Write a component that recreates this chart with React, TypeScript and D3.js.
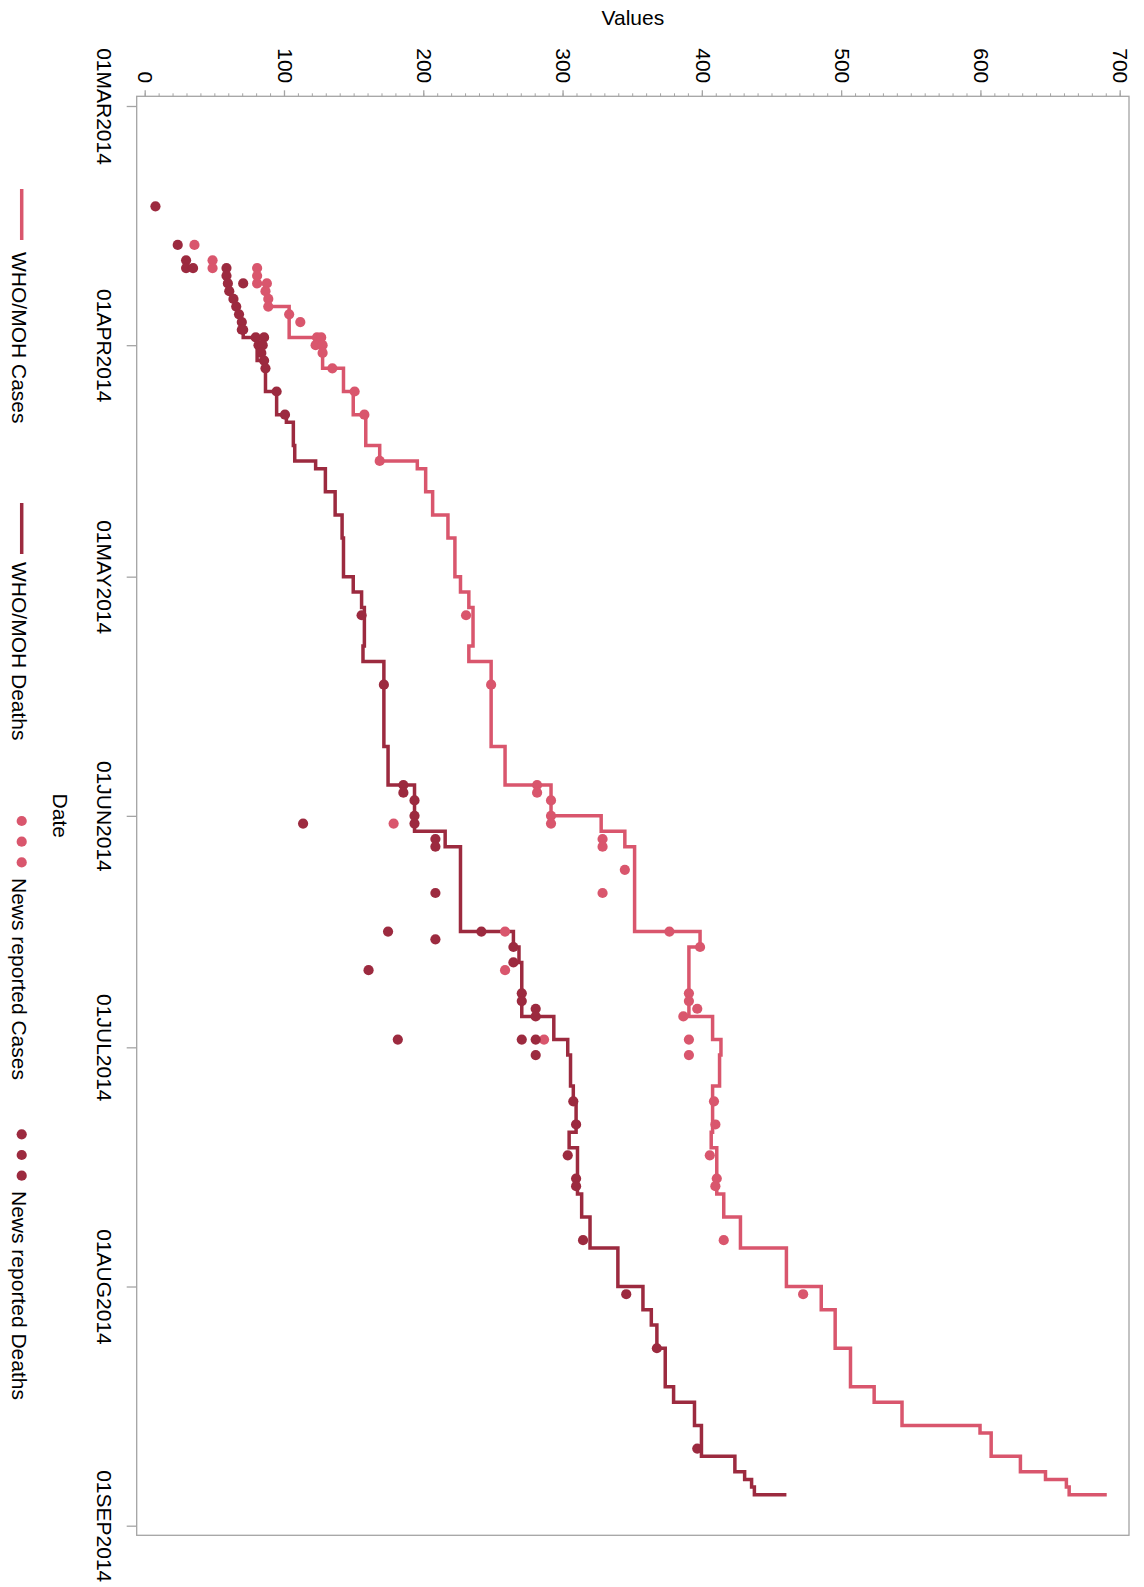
import { useEffect, useRef } from 'react';
import * as d3 from 'd3';

// WHO/MOH step series
const whoCaseDates = [
  '2014-03-26', '2014-03-27', '2014-03-31', '2014-04-04', '2014-04-07', '2014-04-10', '2014-04-14',
  '2014-04-16', '2014-04-17', '2014-04-20', '2014-04-23', '2014-04-26', '2014-05-01', '2014-05-03',
  '2014-05-05', '2014-05-10', '2014-05-12', '2014-05-23', '2014-05-28', '2014-06-01', '2014-06-03',
  '2014-06-05', '2014-06-16', '2014-06-18', '2014-06-27', '2014-06-30', '2014-07-02', '2014-07-06',
  '2014-07-12', '2014-07-14', '2014-07-20', '2014-07-23', '2014-07-27', '2014-08-01', '2014-08-04',
  '2014-08-09', '2014-08-14', '2014-08-16', '2014-08-19', '2014-08-20', '2014-08-23', '2014-08-25',
  '2014-08-26', '2014-08-27', '2014-08-28',
];
const whoCaseValues = [
  88, 103, 127, 142, 149, 158, 168, 195, 201, 206, 217, 222, 226, 232, 235, 232, 248, 258, 291, 327,
  344, 351, 398, 390, 407, 413, 412, 407, 406, 410, 415, 427, 460, 485, 495, 506, 523, 543, 599, 607,
  628, 646, 661, 663, 690,
];

const whoDeathDates = [
  '2014-03-29', '2014-03-31', '2014-04-03', '2014-04-07', '2014-04-10', '2014-04-11', '2014-04-14',
  '2014-04-16', '2014-04-17', '2014-04-20', '2014-04-23', '2014-04-26', '2014-05-01', '2014-05-03',
  '2014-05-05', '2014-05-10', '2014-05-12', '2014-05-23', '2014-05-28', '2014-06-03', '2014-06-05',
  '2014-06-16', '2014-06-18', '2014-06-20', '2014-06-27', '2014-06-30', '2014-07-02', '2014-07-06',
  '2014-07-08', '2014-07-12', '2014-07-14', '2014-07-20', '2014-07-23', '2014-07-27', '2014-08-01',
  '2014-08-04', '2014-08-06', '2014-08-09', '2014-08-14', '2014-08-16', '2014-08-19', '2014-08-23',
  '2014-08-25', '2014-08-26', '2014-08-27', '2014-08-28',
];
const whoDeathValues = [
  70, 80, 86, 94, 101, 106, 107, 122, 129, 136, 141, 142, 149, 155, 157, 156, 171, 174, 193, 215, 226,
  264, 268, 270, 293, 303, 305, 307, 309, 304, 310, 313, 319, 339, 357, 363, 367, 373, 379, 394, 399,
  423, 430, 435, 437, 460,
];

// news reports (scatter)
const newsCaseDates = [
  '2014-03-19', '2014-03-21', '2014-03-22', '2014-03-22', '2014-03-23', '2014-03-24', '2014-03-24',
  '2014-03-25', '2014-03-26', '2014-03-27', '2014-03-28', '2014-03-29', '2014-03-31', '2014-03-31',
  '2014-04-01', '2014-04-01', '2014-04-02', '2014-04-04', '2014-04-07', '2014-04-10', '2014-04-16',
  '2014-05-06', '2014-05-15', '2014-05-28', '2014-05-29', '2014-05-30', '2014-06-01', '2014-06-02',
  '2014-06-02', '2014-06-04', '2014-06-05', '2014-06-08', '2014-06-11', '2014-06-16', '2014-06-16',
  '2014-06-18', '2014-06-21', '2014-06-24', '2014-06-25', '2014-06-26', '2014-06-27', '2014-06-30',
  '2014-06-30', '2014-07-02', '2014-07-08', '2014-07-11', '2014-07-15', '2014-07-18', '2014-07-19',
  '2014-07-26', '2014-08-02',
];
const newsCaseValues = [
  35, 48, 48, 80, 80, 80, 87, 86, 88, 88, 103, 111, 123, 126, 122, 127, 127, 134, 150, 157, 168, 230,
  248, 281, 281, 291, 291, 291, 178, 328, 328, 344, 328, 376, 258, 398, 258, 390, 390, 396, 386, 286,
  390, 390, 408, 409, 405, 410, 409, 415, 472,
];

const newsDeathDates = [
  '2014-03-14', '2014-03-19', '2014-03-21', '2014-03-22', '2014-03-22', '2014-03-22', '2014-03-23',
  '2014-03-24', '2014-03-24', '2014-03-25', '2014-03-26', '2014-03-27', '2014-03-28', '2014-03-29',
  '2014-03-30', '2014-03-30', '2014-03-31', '2014-03-31', '2014-04-01', '2014-04-01', '2014-04-02',
  '2014-04-03', '2014-04-04', '2014-04-07', '2014-04-10', '2014-05-06', '2014-05-15', '2014-05-28',
  '2014-05-29', '2014-05-30', '2014-06-01', '2014-06-02', '2014-06-02', '2014-06-04', '2014-06-05',
  '2014-06-11', '2014-06-16', '2014-06-16', '2014-06-17', '2014-06-18', '2014-06-20', '2014-06-21',
  '2014-06-24', '2014-06-25', '2014-06-26', '2014-06-27', '2014-06-30', '2014-06-30', '2014-06-30',
  '2014-07-02', '2014-07-08', '2014-07-11', '2014-07-15', '2014-07-18', '2014-07-19', '2014-07-26',
  '2014-08-02', '2014-08-09', '2014-08-22',
];
const newsDeathValues = [
  7, 23, 29, 29, 34, 58, 58, 59, 70, 60, 63, 65, 67, 69, 69, 70, 79, 85, 81, 84, 83, 85, 86, 94, 100,
  155, 171, 185, 185, 193, 193, 193, 113, 208, 208, 208, 174, 241, 208, 264, 264, 160, 270, 270, 280,
  280, 181, 270, 280, 280, 307, 309, 303, 309, 309, 314, 345, 367, 396,
];

const valueTicks = [0, 100, 200, 300, 400, 500, 600, 700];
const legendLabels = ['WHO/MOH Cases', 'WHO/MOH Deaths', 'News reported Cases', 'News reported Deaths'];

const CASE_COLOR = '#d9566d';
const DEATH_COLOR = '#9c2a3f';
const FONT = "'Liberation Sans', Arial, sans-serif";
const DOT_R = 5.1;
const LINE_W = 3.5;

const App = () => {
  const ref = useRef<SVGSVGElement>(null);

  useEffect(() => {
    const svg = d3.select(ref.current);
    svg.selectAll('*').remove();

    // the whole chart is drawn upright and then turned a quarter clockwise
    const g = svg
      .append('g')
      .attr('transform', 'translate(1144,0) rotate(90)')
      .attr('font-family', FONT)
      .attr('font-size', 21);

    const parse = d3.utcParse('%Y-%m-%d');
    const start = parse('2014-03-01') as Date;
    const end = parse('2014-09-01') as Date;

    const left = 96.3;
    const right = 1535.3;
    const top = 15;
    const bottom = 1007.3;

    const x = d3.scaleUtc().domain([start, end]).range([106, 1525.7]);
    const y = d3.scaleLinear().domain([0, 700]).range([998.3, 23.3]);

    // frame
    g.append('rect')
      .attr('x', left)
      .attr('y', top)
      .attr('width', right - left)
      .attr('height', bottom - top)
      .attr('fill', 'none')
      .attr('stroke', '#a4a4a4')
      .attr('stroke-width', 1.3);

    // date axis
    const fmt = d3.utcFormat('%d%b%Y');
    const xAxis = d3
      .axisBottom(x)
      .tickValues(d3.utcMonth.range(start, d3.utcDay.offset(end, 1)))
      .tickSize(10)
      .tickFormat((d) => fmt(d as Date).toUpperCase());
    const gx = g.append('g').attr('transform', `translate(0,${bottom})`).call(xAxis);
    gx.select('.domain').remove();
    gx.selectAll('line').attr('stroke', '#a4a4a4').attr('stroke-width', 1.3);
    gx.selectAll('text').attr('y', 40).attr('dy', null).attr('fill', '#000');
    gx.attr('font-family', FONT).attr('font-size', 21);

    // value axis, minor then major ticks
    const gMinor = g
      .append('g')
      .attr('transform', `translate(${left},0)`)
      .call(d3.axisLeft(y).tickValues(d3.range(0, 701, 10)).tickSize(3).tickFormat(() => ''));
    gMinor.select('.domain').remove();
    gMinor.selectAll('line').attr('stroke', '#a4a4a4');

    const gy = g
      .append('g')
      .attr('transform', `translate(${left},0)`)
      .call(d3.axisLeft(y).tickValues(valueTicks).tickSize(6).tickPadding(7));
    gy.select('.domain').remove();
    gy.selectAll('line').attr('stroke', '#a4a4a4').attr('stroke-width', 1.3);
    gy.selectAll('text').attr('fill', '#000');
    gy.attr('font-family', FONT).attr('font-size', 21);

    // axis titles
    g.append('text')
      .attr('x', (left + right) / 2)
      .attr('y', 1090.7)
      .attr('text-anchor', 'middle')
      .text('Date');
    g.append('text')
      .attr('transform', `translate(25,${(top + bottom) / 2}) rotate(-90)`)
      .attr('text-anchor', 'middle')
      .text('Values');

    // step lines
    const line = d3
      .line<[Date, number]>()
      .x((d) => x(d[0]))
      .y((d) => y(d[1]))
      .curve(d3.curveStepAfter);

    const casePts = whoCaseDates.map((d, i) => [parse(d) as Date, whoCaseValues[i]] as [Date, number]);
    const deathPts = whoDeathDates.map((d, i) => [parse(d) as Date, whoDeathValues[i]] as [Date, number]);

    g.append('path')
      .attr('d', line(casePts))
      .attr('fill', 'none')
      .attr('stroke', CASE_COLOR)
      .attr('stroke-width', LINE_W);
    g.append('path')
      .attr('d', line(deathPts))
      .attr('fill', 'none')
      .attr('stroke', DEATH_COLOR)
      .attr('stroke-width', LINE_W);

    // news dots
    g.append('g')
      .selectAll('circle')
      .data(newsCaseDates.map((d, i) => [parse(d) as Date, newsCaseValues[i]] as [Date, number]))
      .enter()
      .append('circle')
      .attr('cx', (d) => x(d[0]))
      .attr('cy', (d) => y(d[1]))
      .attr('r', DOT_R)
      .attr('fill', CASE_COLOR);
    g.append('g')
      .selectAll('circle')
      .data(newsDeathDates.map((d, i) => [parse(d) as Date, newsDeathValues[i]] as [Date, number]))
      .enter()
      .append('circle')
      .attr('cx', (d) => x(d[0]))
      .attr('cy', (d) => y(d[1]))
      .attr('r', DOT_R)
      .attr('fill', DEATH_COLOR);

    // legend
    const ly = 1122.3;
    const lg = g.append('g');
    const swatches = [
      { kind: 'line', color: CASE_COLOR, x0: 189, textX: 252 },
      { kind: 'line', color: DEATH_COLOR, x0: 503, textX: 562 },
      { kind: 'dots', color: CASE_COLOR, x0: 821, textX: 878 },
      { kind: 'dots', color: DEATH_COLOR, x0: 1134.3, textX: 1191 },
    ];
    swatches.forEach((s, i) => {
      if (s.kind === 'line') {
        lg.append('line')
          .attr('x1', s.x0)
          .attr('x2', s.x0 + 51)
          .attr('y1', ly)
          .attr('y2', ly)
          .attr('stroke', s.color)
          .attr('stroke-width', LINE_W);
      } else {
        [0, 1, 2].forEach((k) => {
          lg.append('circle')
            .attr('cx', s.x0 + k * 20.7)
            .attr('cy', ly)
            .attr('r', DOT_R)
            .attr('fill', s.color);
        });
      }
      lg.append('text').attr('x', s.textX).attr('y', 1132.5).text(legendLabels[i]);
    });
  }, []);

  return (
    <svg
      ref={ref}
      width={1144}
      height={1587}
      style={{ position: 'absolute', left: 0, top: 0, background: '#fff' }}
    ></svg>
  );
};

export default App;
